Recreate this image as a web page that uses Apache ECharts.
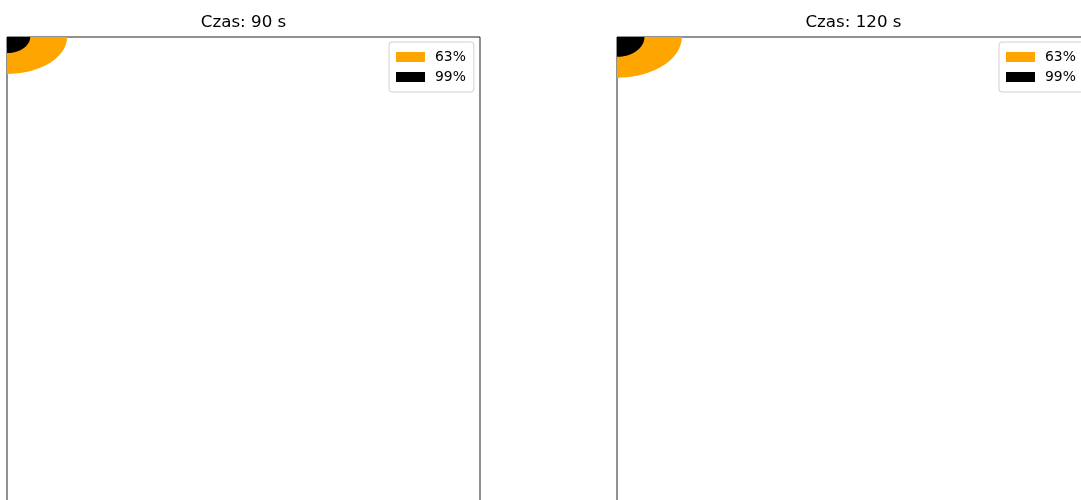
<!DOCTYPE html>
<html>
<head>
<meta charset="utf-8">
<script src="https://cdn.jsdelivr.net/npm/echarts@6/dist/echarts.min.js"></script>
<style>
  html, body { margin: 0; padding: 0; background: #fff; }
  #chart { width: 1081px; height: 500px; }
</style>
</head>
<body>
<div id="chart"></div>
<script>
// Panel titles (elapsed time) and concentration threshold levels
const panelTitles = ['Czas: 90 s', 'Czas: 120 s'];
const levelNames = ['63%', '99%'];
// Semi-axes of the threshold regions spreading from the corner (domain units)
const rx63 = [12.7, 13.7];
const ry63 = [7.8, 8.6];
const rx99 = [4.9, 5.8];
const ry99 = [3.4, 4.2];
// Domain extent of each panel
const domainX = [0, 100];
const domainY = [0, 100];

const levelColors = ['#FFA500', '#000000'];
const FONT = 'DejaVu Sans';

const panelLeft = [7, 617];
const panelTop = 37;
const panelSize = 473;

function quarterEllipse(color) {
  return function (params, api) {
    const rx = api.value(0), ry = api.value(1);
    const pts = [api.coord([0, 0])];
    const N = 90;
    for (let i = 0; i <= N; i++) {
      const t = (i / N) * Math.PI / 2;
      pts.push(api.coord([rx * Math.cos(t), ry * Math.sin(t)]));
    }
    return { type: 'polygon', shape: { points: pts }, style: { fill: color } };
  };
}

const grids = [], xAxes = [], yAxes = [], titles = [], legends = [], series = [];
panelTitles.forEach((name, p) => {
  // square panels; the figure continues past the bottom/right edge of the canvas
  grids.push({
    left: panelLeft[p], top: panelTop, width: panelSize, height: panelSize,
    outerBoundsMode: 'none',
    show: true, borderColor: '#222', borderWidth: 1, backgroundColor: 'transparent'
  });
  const hidden = { axisLine: { show: false }, axisTick: { show: false }, axisLabel: { show: false }, splitLine: { show: false } };
  xAxes.push(Object.assign({ type: 'value', gridIndex: p, min: domainX[0], max: domainX[1] }, hidden));
  yAxes.push(Object.assign({ type: 'value', gridIndex: p, min: domainY[0], max: domainY[1], inverse: true }, hidden));
  titles.push({
    text: name, left: panelLeft[p] + panelSize / 2, top: 14, textAlign: 'center', padding: 0,
    textStyle: { fontFamily: FONT, fontSize: 16.7, fontWeight: 'normal', color: '#000' }
  });
  legends.push({
    orient: 'vertical', left: panelLeft[p] + 382, top: 42,
    data: levelNames.map((n, i) => ({ name: n, icon: 'rect', itemStyle: { color: levelColors[i] } })),
    itemWidth: 29, itemHeight: 10, itemGap: 6,
    padding: [8, 8, 8, 7],
    borderColor: '#d0d0d0', borderWidth: 1, borderRadius: 3, backgroundColor: '#fff',
    selectedMode: false,
    textStyle: { fontFamily: FONT, fontSize: 13.9, color: '#000', padding: [0, 0, 0, 5] }
  });
  const levels = [[rx63[p], ry63[p]], [rx99[p], ry99[p]]];
  levels.forEach((v, i) => {
    series.push({
      type: 'custom', name: levelNames[i], xAxisIndex: p, yAxisIndex: p,
      itemStyle: { color: levelColors[i] }, clip: true, silent: true,
      renderItem: quarterEllipse(levelColors[i]),
      data: [v]
    });
  });
});

const chart = echarts.init(document.getElementById('chart'), null, { renderer: 'canvas' });
chart.setOption({
  animation: false,
  backgroundColor: '#fff',
  title: titles,
  legend: legends,
  grid: grids,
  xAxis: xAxes,
  yAxis: yAxes,
  series: series
});
</script>
</body>
</html>
